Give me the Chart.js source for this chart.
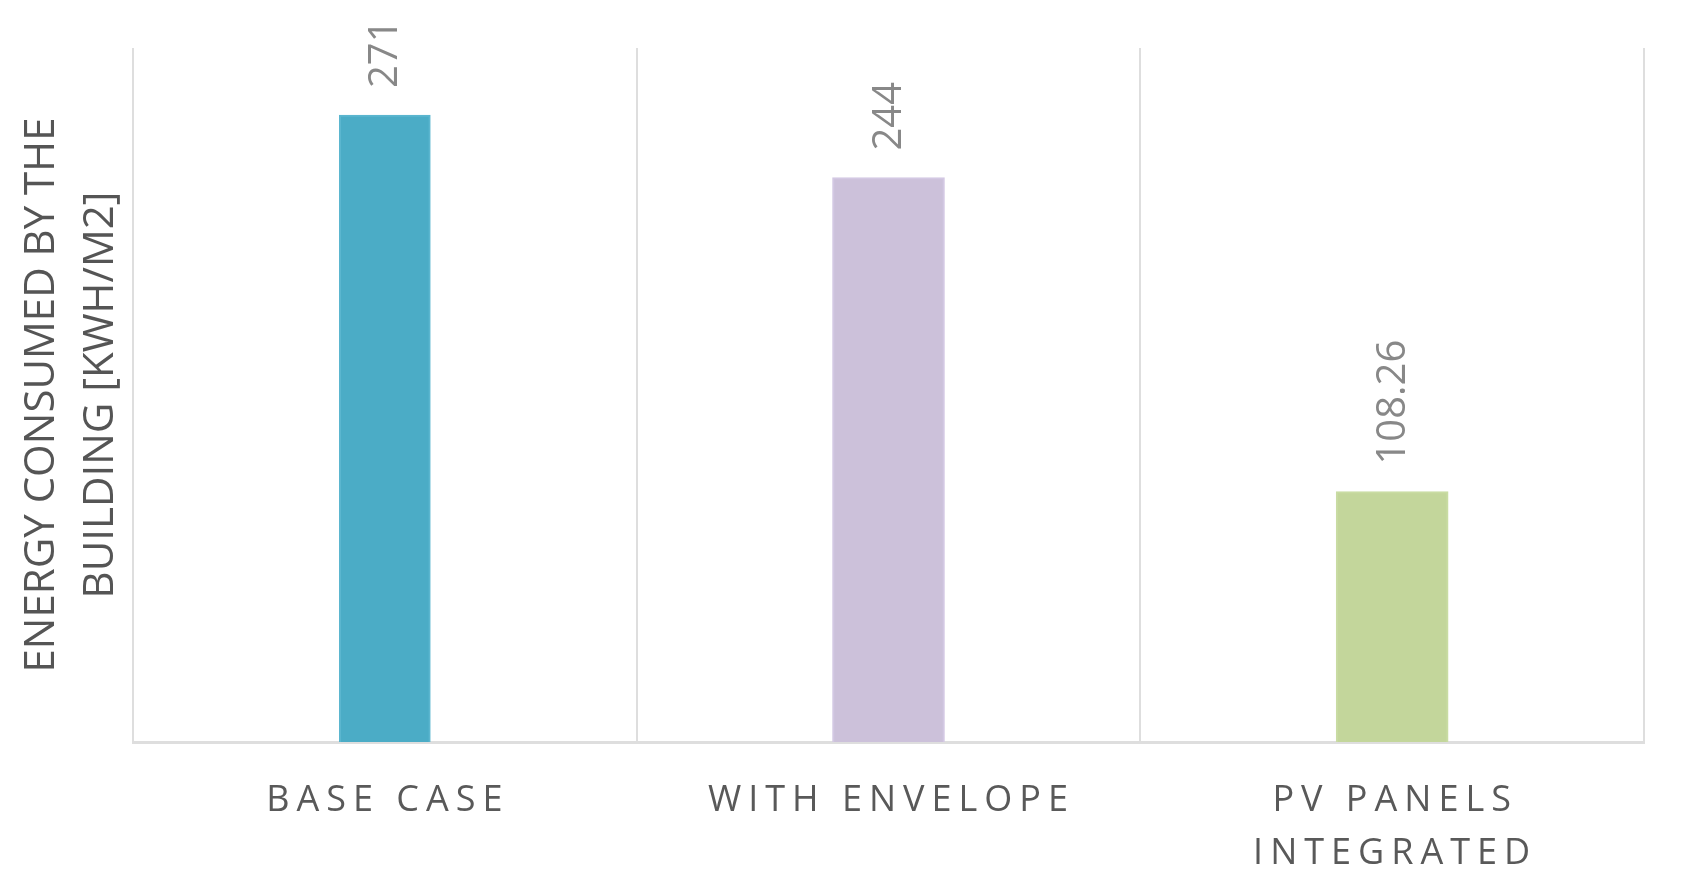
<!DOCTYPE html>
<html>
<head>
<meta charset="utf-8">
<title>Energy consumed by the building</title>
<script src="https://cdn.jsdelivr.net/npm/chart.js@4"></script>
<style>
  html, body { margin: 0; padding: 0; background: #ffffff; }
  #wrap { width: 1687px; height: 887px; }
</style>
</head>
<body>
<div id="wrap"><canvas id="energy-chart"></canvas></div>
<script>
// ===== Data =====
const categories = [
  "BASE CASE",
  "WITH ENVELOPE",
  ["PV PANELS", "INTEGRATED"]
];
const energyValues = [271, 244, 108.26];
const valueLabels = ["271", "244", "108.26"];
const barColors = ["#4BACC6", "#CCC1DA", "#C3D69B"];
const barEdges = ["#5BB6CF", "#D3C8E3", "#C9DCA3"];
const barWidths = [91, 112, 112];

// one dataset per bar so each bar can have its own width
const datasets = energyValues.map((v, i) => ({
  label: valueLabels[i],
  data: categories.map((c, j) => (j === i ? v : null)),
  backgroundColor: barColors[i],
  borderColor: barEdges[i],
  borderWidth: 2,
  borderSkipped: 'bottom',
  barThickness: barWidths[i],
  skipNull: true
}));

// ===== Plugins =====
// spaced-out category labels (x ticks are drawn before the datasets)
const spacing = {
  id: 'spacing',
  beforeDraw(chart) { chart.ctx.letterSpacing = '7px'; },
  afterDatasetsDraw(chart) { chart.ctx.letterSpacing = '0px'; }
};

// rotated value labels on top of each bar
const barValues = {
  id: 'barValues',
  afterDatasetsDraw(chart) {
    const ctx = chart.ctx;
    chart.data.datasets.forEach((ds, i) => {
      const meta = chart.getDatasetMeta(i);
      meta.data.forEach((bar, j) => {
        if (ds.data[j] == null) return;
        ctx.save();
        ctx.translate(bar.x + 1, bar.y - 27);
        ctx.rotate(-Math.PI / 2);
        ctx.font = '40px "Open Sans"';
        ctx.fillStyle = '#888888';
        ctx.textAlign = 'left';
        ctx.textBaseline = 'middle';
        ctx.fillText(ds.label, 0, 0);
        ctx.restore();
      });
    });
  }
};

const ctx = document.getElementById('energy-chart').getContext('2d');
new Chart(ctx, {
  type: 'bar',
  data: { labels: categories, datasets },
  options: {
    responsive: true,
    maintainAspectRatio: false,
    animation: false,
    layout: { padding: { left: 0, right: 43, top: 48, bottom: 0 } },
    plugins: {
      legend: { display: false },
      tooltip: { enabled: false }
    },
    scales: {
      x: {
        grid: { color: '#dedede', lineWidth: 2, drawTicks: false, offset: true },
        border: { color: '#dedede', width: 3 },
        ticks: {
          color: '#595959',
          font: { family: 'Open Sans', size: 36, lineHeight: 1.45 },
          padding: 33,
          labelOffset: 3,
          maxRotation: 0,
          autoSkip: false
        },
        afterFit(scale) { scale.height = 145; }
      },
      y: {
        min: 0,
        max: 300,
        ticks: { display: false },
        grid: { display: false, z: 1 },
        border: { display: false },
        title: {
          display: true,
          text: ["ENERGY CONSUMED BY THE", "BUILDING [KWH/M2]"],
          color: '#555555',
          font: { family: 'Open Sans', size: 42, lineHeight: 1.4 },
          padding: { top: 13, bottom: 0 }
        },
        afterFit(scale) { scale.width = 133; }
      }
    }
  },
  plugins: [spacing, barValues]
});
</script>
</body>
</html>
